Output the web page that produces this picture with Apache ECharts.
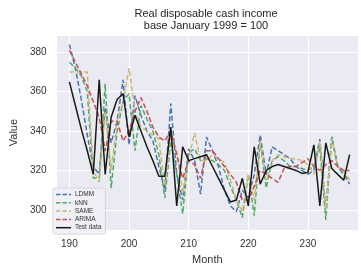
<!DOCTYPE html>
<html>
<head>
<meta charset="utf-8">
<script src="https://cdn.jsdelivr.net/npm/echarts@6/dist/echarts.min.js"></script>
<style>
html, body { margin: 0; padding: 0; background: #fff; }
#main { width: 361px; height: 270px; }
</style>
</head>
<body>
<div id="main"></div>
<script>
// months on the x axis
var months = [190, 191, 192, 193, 194, 195, 196, 197, 198, 199,
	200, 201, 202, 203, 204, 205, 206, 207, 208, 209,
	210, 211, 212, 213, 214, 215, 216, 217, 218, 219,
	220, 221, 222, 223, 224, 225, 226, 227, 228, 229,
	230, 231, 232, 233, 234, 235, 236, 237];

// predictions and test data
var ldmm = [384, 372, 356, 338, 322, 318, 352, 334, 345, 366,
	333, 358, 348, 340, 335, 322, 310, 354, 318, 305,
	331, 325, 308, 337, 330, 322, 310, 302, 299, 310,
	306, 318, 338, 318, 332, 330, 328, 326, 322, 320,
	318, 320, 336, 300, 337, 322, 318, 313];
var knn = [375, 372, 368, 360, 316, 316, 364, 311, 340, 355,
	359, 330, 353, 346, 340, 328, 306, 335, 318, 298,
	329, 331, 325, 326, 325, 323, 320, 312, 305, 296,
	318, 297, 335, 311, 325, 327, 325, 322, 322, 321,
	320, 322, 332, 295, 337, 322, 318, 315];
var same = [370, 370, 370, 370, 320, 314, 350, 320, 345, 355,
	372, 350, 342, 340, 338, 336, 312, 338, 330, 308,
	326, 339, 325, 325, 328, 326, 324, 315, 305, 299,
	318, 305, 335, 315, 325, 328, 327, 326, 326, 325,
	323, 318, 335, 300, 336, 322, 320, 315];
var arima = [381, 375, 369, 363, 355, 347, 330, 345, 345, 335,
	340, 350, 357, 350, 342, 337, 335, 340, 328, 316,
	325, 323, 316, 330, 330, 326, 322, 318, 314, 305,
	305, 312, 320, 318, 316, 314, 321, 322, 322, 324,
	326, 322, 320, 323, 325, 322, 320, 320];
var testData = [365, 353, 341, 330, 318, 366, 318, 347, 356, 359,
	337, 348, 340, 332, 325, 317, 317, 342, 302, 332,
	325, 326, 327, 328, 322, 316, 310, 304, 305, 316,
	302, 332, 313, 320, 322, 323, 322, 321, 320, 318.5,
	319, 333, 302, 334, 321, 318, 315, 328];

var seriesNames = ['LDMM', 'kNN', 'SAME', 'ARIMA', 'Test data'];

// legend icons: dashed and solid strokes
var dashIcon = 'path://M0,0L4.5,0L4.5,1.5L0,1.5Z M6.5,0L11,0L11,1.5L6.5,1.5Z M13,0L15,0L15,1.5L13,1.5Z';
var solidIcon = 'path://M0,0L15,0L15,1.5L0,1.5Z';

function pairs(vals) {
	var out = [];
	for (var i = 0; i < months.length; i++) {
		out.push([months[i], vals[i]]);
	}
	return out;
}

function dashed(name, vals, color) {
	return {
		name: name,
		type: 'line',
		data: pairs(vals),
		symbol: 'none',
		animation: false,
		lineStyle: { color: color, width: 1.5, type: [5, 2.5] },
		itemStyle: { color: color }
	};
}

var dom = document.getElementById('main');
var myChart = echarts.init(dom, null, { renderer: 'canvas' });
var textColor = '#333';
var font = 'Liberation Sans, Arial, sans-serif';

var legendData = [];
for (var i = 0; i < seriesNames.length; i++) {
	legendData.push({ name: seriesNames[i], icon: i < 4 ? dashIcon : solidIcon });
}

var option = {
	backgroundColor: '#fff',
	animation: false,
	textStyle: { fontFamily: font },
	graphic: [
		{
			type: 'text', x: 206, y: 8,
			style: {
				text: 'Real disposable cash income\nbase January 1999 = 100',
				fontSize: 11, fontFamily: font, fill: '#262626',
				align: 'center', lineHeight: 12
			}
		}
	],
	grid: { left: 52, top: 35, right: 3, bottom: 33, show: true, backgroundColor: '#eaeaf2', borderWidth: 0 },
	legend: {
		orient: 'vertical',
		left: 53, top: 188,
		data: legendData,
		itemWidth: 15, itemHeight: 1.5, itemGap: 1.3,
		padding: [3, 4, 3, 3],
		backgroundColor: 'rgba(240,240,246,0.9)',
		borderColor: '#d0d0d8', borderWidth: 0.8, borderRadius: 2,
		textStyle: { fontSize: 6.5, color: '#333', fontFamily: font, padding: [0, 0, 0, -1] }
	},
	xAxis: {
		type: 'value', min: 187.85, max: 238.4, splitNumber: 5,
		name: 'Month', nameLocation: 'middle', nameGap: 21,
		nameTextStyle: { fontSize: 11, color: textColor },
		axisLine: { show: false }, axisTick: { show: false },
		axisLabel: { fontSize: 10, color: textColor, margin: 9, showMinLabel: false, showMaxLabel: false },
		splitLine: { lineStyle: { color: '#fff', width: 1 } }
	},
	yAxis: {
		type: 'value', min: 289.7, max: 388.8, splitNumber: 5,
		name: 'Value', nameLocation: 'middle', nameGap: 32,
		nameTextStyle: { fontSize: 11, color: textColor },
		axisLine: { show: false }, axisTick: { show: false },
		axisLabel: { fontSize: 10, color: textColor, margin: 10, showMinLabel: false, showMaxLabel: false },
		splitLine: { lineStyle: { color: '#fff', width: 1 } }
	},
	series: [
		dashed('LDMM', ldmm, '#4c72b0'),
		dashed('kNN', knn, '#55a868'),
		dashed('SAME', same, '#ccb974'),
		dashed('ARIMA', arima, '#c44e52'),
		{
			name: 'Test data',
			type: 'line',
			data: pairs(testData),
			symbol: 'none',
			animation: false,
			lineStyle: { color: '#1a1a1a', width: 1.5 },
			itemStyle: { color: '#1a1a1a' }
		}
	]
};
myChart.setOption(option, true);
</script>
</body>
</html>
